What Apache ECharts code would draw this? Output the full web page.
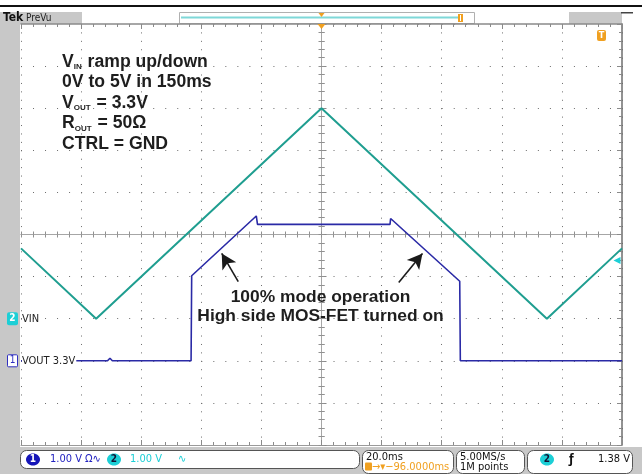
<!DOCTYPE html>
<html>
<head>
<meta charset="utf-8">
<script src="https://cdn.jsdelivr.net/npm/echarts@6/dist/echarts.min.js"></script>
<style>
  html, body { margin: 0; padding: 0; background: #ffffff; }
  #scope { width: 642px; height: 474px; }
</style>
</head>
<body>
<div id="scope"></div>
<script>
// Time base: ms relative to screen centre, 20 ms/div over 10 divisions
const timeSpan = [-100, 100];
const timeStep = 20;

// CH2 (VIN) triangle ramp, volts
const vinTime  = [-100, -75, 0, 75, 100];
const vinVolts = [1.67, 0, 5.0, 0, 1.67];

// CH1 (VOUT), volts
const voutTime  = [-100, -71.2, -70.4, -69.6, -43.4, -43.2, -21.7, -21.3, 22.8, 23.0, 46.0, 46.2, 100];
const voutVolts = [0, 0, 0.06, 0, 0, 2.02, 3.44, 3.24, 3.24, 3.38, 1.89, 0, 0];

// Vertical setup: 1 V/div, ground position in divisions above bottom edge
const ch1Ground = 2;
const ch2Ground = 3;
const divisions = 10;
const trigLevel = 1.38;

// Annotation arrows [tail, head] in (ms, CH1 volts)
const arrowLeft  = [[-27.7, 1.88], [-33.2, 2.55]];
const arrowRight = [[25.7, 1.86], [33.6, 2.55]];

const noteLines = [
  ['V', 'IN', ' ramp up/down'],
  ['0V to 5V in 150ms', '', ''],
  ['V', 'OUT', ' = 3.3V'],
  ['R', 'OUT', ' = 50\u03A9'],
  ['CTRL = GND', '', '']
];
const calloutLines = ['100% mode operation', 'High side MOS-FET turned on'];

const TRACE_VIN = '#1f9e90';
const TRACE_VOUT = '#2a2aa6';
const CYAN = '#1ccfd6';
const ORANGE = '#f0a020';
const GRID_GRAY = '#6c6c6c';
const SCOPE_FONT = '"DejaVu Sans Condensed", "DejaVu Sans", sans-serif';
const NOTE_FONT = '"Liberation Sans", Arial, sans-serif';

const zip = (a, b) => a.map((v, i) => [v, b[i]]);

const chart = echarts.init(document.getElementById('scope'), null, { renderer: 'canvas' });

function borderAxis(extra) {
  return Object.assign({
    type: 'value',
    axisLabel: { show: false },
    axisLine: { show: true, onZero: false, lineStyle: { color: '#9a9a9a', width: 1 } },
    axisTick: { show: true, inside: true, length: 5, lineStyle: { color: '#8a8a8a' } },
    minorTick: { show: true, splitNumber: 5, length: 3, lineStyle: { color: '#8a8a8a' } },
    splitLine: { show: false }
  }, extra);
}

function centreAxis(extra, inside) {
  return Object.assign({
    type: 'value',
    axisLabel: { show: false },
    axisLine: { show: true, onZero: true, lineStyle: { color: '#a6a6a6', width: 1 } },
    axisTick: { show: true, inside: inside, length: 3, lineStyle: { color: '#909090' } },
    minorTick: { show: true, splitNumber: 5, length: 3, lineStyle: { color: '#909090' } },
    splitLine: { show: false }
  }, extra);
}

const option = {
  animation: false,
  backgroundColor: '#ffffff',
  grid: { left: 21, right: 20, top: 24, bottom: 29, outerBoundsMode: 'none', containLabel: false },
  xAxis: [
    borderAxis({
      min: timeSpan[0], max: timeSpan[1], interval: timeStep, position: 'bottom',
      splitLine: { show: true, lineStyle: { color: GRID_GRAY, type: [1, 7.42], width: 1 } }
    }),
    borderAxis({ min: timeSpan[0], max: timeSpan[1], interval: timeStep, position: 'top',
      axisLine: { show: true, onZero: false, lineStyle: { color: '#8a8a8a', width: 1.5 } } }),
    centreAxis({ min: timeSpan[0], max: timeSpan[1], interval: timeStep, position: 'bottom',
      axisLine: { show: true, onZero: true, onZeroAxisIndex: 2, lineStyle: { color: '#a6a6a6' } } }, true),
    centreAxis({ min: timeSpan[0], max: timeSpan[1], interval: timeStep, position: 'bottom',
      axisLine: { show: true, onZero: true, onZeroAxisIndex: 2, lineStyle: { color: '#a6a6a6' } } }, false)
  ],
  yAxis: [
    borderAxis({
      min: -ch1Ground, max: divisions - ch1Ground, interval: 1, position: 'left',
      axisLine: { show: false },
      splitLine: { show: true, lineStyle: { color: GRID_GRAY, type: [1, 11.02], width: 1 } }
    }),
    borderAxis({ min: -ch2Ground, max: divisions - ch2Ground, interval: 1, position: 'right',
      axisLine: { show: true, onZero: false, lineStyle: { color: '#6e6e6e', width: 1.5 } } }),
    centreAxis({ min: -divisions / 2, max: divisions / 2, interval: 1, position: 'left',
      axisLine: { show: true, onZero: true, onZeroAxisIndex: 0, lineStyle: { color: '#a6a6a6' } } }, true),
    centreAxis({ min: -divisions / 2, max: divisions / 2, interval: 1, position: 'left',
      axisLine: { show: true, onZero: true, onZeroAxisIndex: 0, lineStyle: { color: '#a6a6a6' } } }, false)
  ],
  series: [
    {
      name: 'VIN', type: 'line', xAxisIndex: 0, yAxisIndex: 1,
      data: zip(vinTime, vinVolts), showSymbol: false, symbol: 'none', z: 5,
      lineStyle: { color: TRACE_VIN, width: 2 },
      markPoint: {
        silent: true, animation: false,
        data: [{ coord: [timeSpan[1], trigLevel], symbol: 'triangle', symbolRotate: 90,
                 symbolSize: [7, 7], symbolOffset: [-5, 0], itemStyle: { color: CYAN },
                 label: { show: false } }]
      }
    },
    {
      name: 'VOUT', type: 'line', xAxisIndex: 0, yAxisIndex: 0,
      data: zip(voutTime, voutVolts), showSymbol: false, symbol: 'none', z: 6,
      lineStyle: { color: TRACE_VOUT, width: 1.6 },
      markLine: {
        silent: true, animation: false, symbol: ['none', 'arrow'], symbolSize: [12, 15],
        lineStyle: { color: '#1a1a1a', width: 1.6, type: 'solid' },
        label: { show: false },
        data: [
          [{ coord: arrowLeft[0] }, { coord: arrowLeft[1] }],
          [{ coord: arrowRight[0] }, { coord: arrowRight[1] }]
        ]
      }
    }
  ]
};

chart.setOption(option);

// Screen furniture: header, status bar, channel markers and notes
const gY1 = chart.convertToPixel({ yAxisIndex: 0 }, 0);
const gY2 = chart.convertToPixel({ yAxisIndex: 1 }, 0);
const cx = chart.convertToPixel({ xAxisIndex: 0 }, 0);

const g = [];
// frame backgrounds
g.push({ type: 'rect', z: -10, shape: { x: 0, y: 5, width: 642, height: 2 }, style: { fill: '#111' } });
g.push({ type: 'rect', z: -10, shape: { x: 0, y: 12, width: 20, height: 436 }, style: { fill: '#c8c8c8' } });
g.push({ type: 'rect', z: -10, shape: { x: 0, y: 12, width: 82, height: 12 }, style: { fill: '#c8c8c8' } });
g.push({ type: 'rect', z: -10, shape: { x: 569, y: 12, width: 53, height: 12 }, style: { fill: '#c8c8c8' } });
g.push({ type: 'rect', z: -10, shape: { x: 621, y: 12, width: 12, height: 1.5 }, style: { fill: '#444' } });
g.push({ type: 'rect', z: -10, shape: { x: 0, y: 447, width: 642, height: 27 }, style: { fill: '#c8c8c8' } });
// header
g.push({ type: 'text', z: 20, x: 3, y: 18, style: { text: 'Tek', font: 'bold 12px ' + SCOPE_FONT, fill: '#111', verticalAlign: 'middle' } });
g.push({ type: 'text', z: 20, x: 26, y: 18, style: { text: 'PreVu', font: '10px ' + SCOPE_FONT, fill: '#222', verticalAlign: 'middle' } });
g.push({ type: 'rect', z: 0, shape: { x: 179.5, y: 12.5, width: 295, height: 11 }, style: { fill: '#fff', stroke: '#b0b0b0', lineWidth: 1 } });
g.push({ type: 'rect', z: 1, shape: { x: 181, y: 16.5, width: 280, height: 2 }, style: { fill: '#7fd8d8' } });
g.push({ type: 'polygon', z: 2, shape: { points: [[cx - 3, 13], [cx + 3, 13], [cx, 17]] }, style: { fill: ORANGE } });
g.push({ type: 'rect', z: 2, shape: { x: 458, y: 14, width: 5, height: 8 }, style: { fill: ORANGE } });
g.push({ type: 'rect', z: 3, shape: { x: 460, y: 15, width: 1, height: 6 }, style: { fill: '#fff' } });
// expansion point marker and trigger badge
g.push({ type: 'polygon', z: 20, shape: { points: [[cx - 4, 24], [cx + 4, 24], [cx, 29]] }, style: { fill: ORANGE } });
g.push({ type: 'rect', z: 20, shape: { x: 597, y: 30, width: 9, height: 11, r: 2 }, style: { fill: ORANGE } });
g.push({ type: 'text', z: 21, x: 601.5, y: 35.5, style: { text: 'T', font: 'bold 9px ' + SCOPE_FONT, fill: '#fff', align: 'center', verticalAlign: 'middle' } });

// channel ground markers
g.push({ type: 'rect', z: 20, shape: { x: 7, y: gY2 - 6.5, width: 11, height: 13, r: 2 }, style: { fill: CYAN } });
g.push({ type: 'text', z: 21, x: 12.5, y: gY2, style: { text: '2', font: 'bold 10px ' + SCOPE_FONT, fill: '#fff', align: 'center', verticalAlign: 'middle' } });
g.push({ type: 'text', z: 21, x: 22, y: gY2, style: { text: 'VIN', font: '11px ' + SCOPE_FONT, fill: '#222', verticalAlign: 'middle' } });
g.push({ type: 'rect', z: 20, shape: { x: 7.5, y: gY1 - 6, width: 10, height: 12, r: 1 }, style: { fill: '#fff', stroke: '#3030c0', lineWidth: 1 } });
g.push({ type: 'text', z: 21, x: 12.5, y: gY1, style: { text: '1', font: '10px ' + SCOPE_FONT, fill: '#3030c0', align: 'center', verticalAlign: 'middle' } });
g.push({ type: 'text', z: 21, x: 22, y: gY1, style: { text: 'VOUT 3.3V', font: '11px ' + SCOPE_FONT, fill: '#222', verticalAlign: 'middle', backgroundColor: '#fff', padding: [1, 1, 1, 0] } });

// notes, top-left
const noteTop = 62, noteStep = 20.5;
noteLines.forEach((parts, i) => {
  g.push({
    type: 'text', z: 30, x: 62, y: noteTop + i * noteStep,
    style: {
      text: '{b|' + parts[0] + '}' + (parts[1] ? '{s|' + parts[1] + '}' : '') + (parts[2] ? '{b|' + parts[2] + '}' : ''),
      verticalAlign: 'middle',
      rich: {
        b: { font: 'bold 17.6px ' + NOTE_FONT, fill: '#1e1e1e', lineHeight: 18, verticalAlign: 'bottom' },
        s: { font: 'bold 8px ' + NOTE_FONT, fill: '#1e1e1e', lineHeight: 18, verticalAlign: 'bottom', padding: [0, 1, 0, 0] }
      }
    }
  });
});
// callout under the VOUT trace
calloutLines.forEach((t, i) => {
  g.push({ type: 'text', z: 30, x: cx - 1, y: 297 + i * 19, style: { text: t, font: 'bold 17.4px ' + NOTE_FONT, fill: '#1e1e1e', align: 'center', verticalAlign: 'middle' } });
});

// status bar
const box = (x, y, w, h) => ({ type: 'rect', z: 0, shape: { x: x, y: y, width: w, height: h, r: 6 }, style: { fill: '#fff', stroke: '#555', lineWidth: 1 } });
g.push(box(20.5, 450.5, 339, 18));
g.push(box(362.5, 450.5, 91, 23));
g.push(box(456.5, 450.5, 68, 23));
g.push(box(527.5, 450.5, 105, 23));
const sText = (x, y, t, fill, extra) => ({ type: 'text', z: 20, x: x, y: y, style: Object.assign({ text: t, font: '11px ' + SCOPE_FONT, fill: fill, verticalAlign: 'middle' }, extra || {}) });
g.push({ type: 'ellipse', z: 10, shape: { cx: 33, cy: 459.5, rx: 7, ry: 6 }, style: { fill: '#1515b8' } });
g.push(sText(33, 459.5, '1', '#fff', { align: 'center', font: 'bold 10px ' + SCOPE_FONT }));
g.push(sText(50, 459.5, '1.00 V', '#2222c0'));
g.push(sText(85, 459.5, '\u03A9\u223F', '#2222c0'));
g.push({ type: 'ellipse', z: 10, shape: { cx: 114, cy: 459.5, rx: 7, ry: 6 }, style: { fill: CYAN } });
g.push(sText(114, 459.5, '2', '#113', { align: 'center', font: 'bold 10px ' + SCOPE_FONT }));
g.push(sText(130, 459.5, '1.00 V', CYAN));
g.push(sText(178, 459.5, '\u223F', CYAN));
g.push(sText(366, 457, '20.0ms', '#111'));
g.push({ type: 'rect', z: 10, shape: { x: 365, y: 462.5, width: 7, height: 8, r: 1 }, style: { fill: ORANGE } });
g.push(sText(372, 467, '\u2192\u25BE\u221296.0000ms', ORANGE));
g.push(sText(460, 457, '5.00MS/s', '#111'));
g.push(sText(460, 467, '1M points', '#111'));
g.push({ type: 'ellipse', z: 10, shape: { cx: 547, cy: 459.5, rx: 7, ry: 6 }, style: { fill: CYAN } });
g.push(sText(547, 459.5, '2', '#113', { align: 'center', font: 'bold 10px ' + SCOPE_FONT }));
g.push(sText(569, 459.5, '\u0192', '#111', { font: 'bold 12px ' + SCOPE_FONT }));
g.push(sText(630, 459.5, trigLevel.toFixed(2) + ' V', '#111', { align: 'right' }));

chart.setOption({ graphic: { elements: g } });
</script>
</body>
</html>
